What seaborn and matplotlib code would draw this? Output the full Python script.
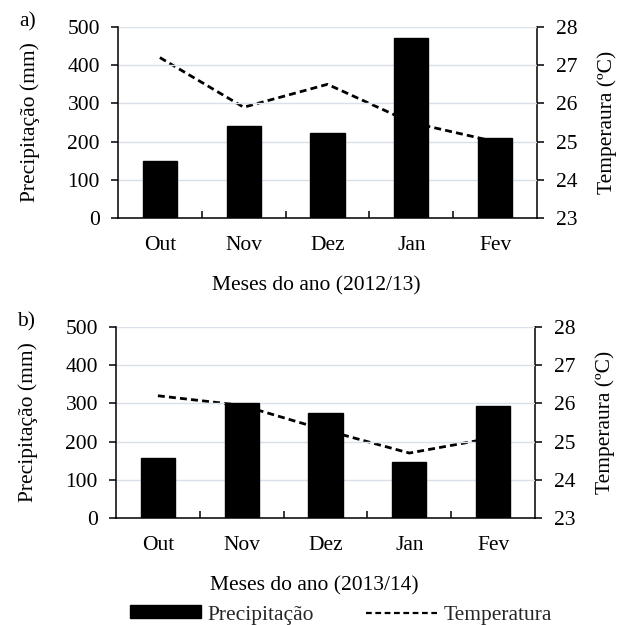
import matplotlib
matplotlib.use("Agg")
import matplotlib.pyplot as plt
from matplotlib.patches import Patch
from matplotlib.lines import Line2D
import seaborn as sns
import pandas as pd

months = ["Out", "Nov", "Dez", "Jan", "Fev"]

precip_2012 = [148, 242, 223, 470, 209]
temp_2012 = [27.2, 25.9, 26.5, 25.5, 25.0]

precip_2013 = [158, 300, 274, 147, 294]
temp_2013 = [26.2, 25.95, 25.3, 24.7, 25.1]

panels = [
    ("a)", "Meses do ano (2012/13)", precip_2012, temp_2012),
    ("b)", "Meses do ano (2013/14)", precip_2013, temp_2013),
]

prec_ticks = [0, 100, 200, 300, 400, 500]
temp_ticks = [23, 24, 25, 26, 27, 28]

sns.set_theme(style="white")
plt.rcParams["font.family"] = ["Liberation Serif", "DejaVu Serif"]

FS = 15.5
GRID = "#d9e0ea"
DASH = (0, (2.5, 1.5))

fig = plt.figure(figsize=(6.22, 6.25), dpi=100)
fig.patch.set_facecolor("white")

rects = [
    [0.1897, 0.6512, 0.6736, 0.3056],
    [0.1865, 0.1712, 0.6736, 0.3056],
]

for (tag, xlabel, precip, temp), rect in zip(panels, rects):
    ax = fig.add_axes(rect)
    df = pd.DataFrame({"mes": months, "prec": precip})
    sns.barplot(data=df, x="mes", y="prec", color="black", saturation=1,
                width=0.41, edgecolor="black", ax=ax, zorder=3)

    ax2 = ax.twinx()
    tdf = pd.DataFrame({"pos": range(len(months)), "temp": temp})
    sns.lineplot(data=tdf, x="pos", y="temp", color="black", lw=2.0,
                 linestyle=DASH, ax=ax2)

    # bars sit above the temperature line
    ax.set_zorder(2)
    ax.patch.set_visible(False)
    ax2.set_zorder(1)

    ax.set_xlim(-0.5, len(months) - 0.5)
    ax.set_ylim(0, 500)
    ax.set_yticks(prec_ticks)
    ax2.set_ylim(23, 28)
    ax2.set_yticks(temp_ticks)

    ax.yaxis.grid(True, color=GRID, lw=1.0, zorder=0)
    ax.xaxis.grid(False)
    ax2.grid(False)

    for s in ["top", "right"]:
        ax.spines[s].set_visible(False)
    for s in ["top", "left", "bottom"]:
        ax2.spines[s].set_visible(False)
    for sp in [ax.spines["left"], ax.spines["bottom"], ax2.spines["right"]]:
        sp.set_color("black")
        sp.set_linewidth(1.1)

    ax.set_xticks(range(len(months)))
    ax.set_xticklabels(months)
    ax.set_xticks([i + 0.5 for i in range(len(months) - 1)], minor=True)
    ax.tick_params(axis="x", which="major", length=0, pad=13, labelsize=FS,
                   colors="black")
    ax.tick_params(axis="x", which="minor", direction="in", length=5,
                   width=1.1, color="black", bottom=True)
    ax.tick_params(axis="y", direction="out", length=5, width=1.1,
                   pad=8, labelsize=FS, colors="black", left=True)
    ax2.tick_params(axis="y", direction="out", length=5, width=1.1,
                    pad=9, labelsize=FS, colors="black", right=True)

    ax.set_xlabel(xlabel, fontsize=FS, labelpad=15, color="black")
    ax.xaxis.label.set_x(0.473)
    ax.set_ylabel("Precipitação (mm)", fontsize=FS, labelpad=20, color="black")
    ax2.set_ylabel("Temperaura (ºC)", fontsize=FS, labelpad=14, color="black")

    ax.text(-0.215, 1.025, tag, transform=ax.transAxes, fontsize=FS,
            ha="center", va="center", color="black")

handles = [
    Patch(facecolor="black", edgecolor="black"),
    Line2D([], [], color="black", lw=1.6, linestyle=(0, (2.6, 1.6))),
]
fig.legend(handles, ["Precipitação", "Temperatura"], loc="center",
           bbox_to_anchor=(0.548, 1 - 615 / 625), ncol=2, frameon=False,
           fontsize=FS, handlelength=3.3, handleheight=0.55,
           handletextpad=0.3, columnspacing=2.4, borderpad=0)

fig.savefig("out.png", dpi=100, facecolor="white")
